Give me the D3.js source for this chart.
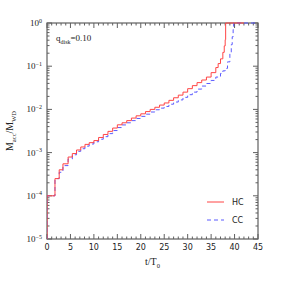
<!DOCTYPE html>
<html>
<head>
<meta charset="utf-8">
<script src="https://cdn.jsdelivr.net/npm/d3@7"></script>
<style>
body{margin:0;background:#fff;}
text{font-family:"Liberation Serif",serif;fill:#222;}
</style>
</head>
<body>
<div id="chart"></div>
<script>
// HC (solid red) and CC (dashed blue) accreted mass fraction vs t/T0
const tHC = [0, 0, 1.7, 2.6, 3.4, 4.5, 5.4, 6.3, 7.2, 8.1, 9.0, 10, 11, 12, 13, 14, 15, 16, 17, 18, 19, 20,
	21, 22, 23, 24, 25, 26, 27, 28, 29, 30, 31, 32, 33, 34, 35, 36, 36.5, 37, 37.5, 37.8, 38.0, 38.1, 42];
const mHC = [1e-5, 1.0e-4, 2.5e-4, 4.0e-4, 5.5e-4, 7.9e-4, 9.5e-4, 1.15e-3, 1.35e-3, 1.55e-3, 1.7e-3, 1.9e-3,
	2.24e-3, 2.63e-3, 3.1e-3, 3.7e-3, 4.4e-3, 4.9e-3, 5.5e-3, 6.3e-3, 7.1e-3, 7.9e-3,
	8.9e-3, 1.0e-2, 1.12e-2, 1.26e-2, 1.41e-2, 1.62e-2, 1.86e-2, 2.14e-2, 2.51e-2, 3.02e-2,
	3.55e-2, 4.17e-2, 4.79e-2, 5.6e-2, 7.1e-2, 9.3e-2, 0.115, 0.148, 0.209, 0.295, 0.41, 1, 1];

const tCC = [0, 0, 1.7, 2.6, 3.4, 4.5, 5.4, 6.3, 7.2, 8.1, 9.0, 10, 11, 12, 13, 14, 15, 16, 17, 18, 19, 20,
	21, 22, 23, 24, 25, 26, 27, 28, 29, 30, 31, 32, 33, 34, 35, 36, 37, 37.5, 38, 38.5, 39, 39.3, 39.5, 39.7, 39.8, 45];
const mCC = [1e-5, 1.0e-4, 2.5e-4, 3.5e-4, 5.0e-4, 7.1e-4, 8.9e-4, 1.07e-3, 1.23e-3, 1.41e-3, 1.58e-3, 1.78e-3,
	2.04e-3, 2.34e-3, 2.75e-3, 3.24e-3, 3.8e-3, 4.37e-3, 4.9e-3, 5.5e-3, 6.17e-3, 6.9e-3,
	7.76e-3, 8.7e-3, 9.8e-3, 1.07e-2, 1.17e-2, 1.32e-2, 1.48e-2, 1.66e-2, 1.9e-2, 2.19e-2,
	2.51e-2, 2.95e-2, 3.47e-2, 3.98e-2, 4.68e-2, 5.6e-2, 6.8e-2, 7.8e-2, 8.9e-2, 0.126, 0.2, 0.316, 0.48, 0.71, 1, 1];

const xTicks = [0, 5, 10, 15, 20, 25, 30, 35, 40, 45];
const yExps = [0, -1, -2, -3, -4, -5];
const seriesNames = ['HC', 'CC'];

const W = 281, H = 281;
const m = {t:23, r:23, b:42, l:47};
const w = W - m.l - m.r, h = H - m.t - m.b;

const svg = d3.select('#chart').append('svg').attr('width', W).attr('height', H);
const g = svg.append('g').attr('transform', `translate(${m.l},${m.t})`);

const x = d3.scaleLinear().domain([0, 45]).range([0, w]);
const y = d3.scaleLog().domain([1e-5, 1]).range([h, 0]);

const axisColor = '#606060';

g.append('clipPath').attr('id', 'clip')
	.append('rect').attr('y', -1).attr('width', w).attr('height', h + 1);

// ticks (inward, on all sides)
const minorX = d3.range(0, 46, 1);
const minorY = [];
for (let e = -5; e < 0; e++) for (let k = 2; k < 10; k++) minorY.push(k * Math.pow(10, e));
const majorY = yExps.map(e => Math.pow(10, e));

const ticks = g.append('g').attr('stroke', axisColor).attr('stroke-width', 1);
minorX.forEach(v => {
	const len = v % 5 === 0 ? 5 : 2.5;
	ticks.append('line').attr('x1', x(v)).attr('x2', x(v)).attr('y1', h).attr('y2', h - len);
	ticks.append('line').attr('x1', x(v)).attr('x2', x(v)).attr('y1', 0).attr('y2', len);
});
minorY.concat(majorY).forEach(v => {
	const len = majorY.includes(v) ? 5 : 2.5;
	ticks.append('line').attr('x1', 0).attr('x2', len).attr('y1', y(v)).attr('y2', y(v));
	ticks.append('line').attr('x1', w).attr('x2', w - len).attr('y1', y(v)).attr('y2', y(v));
});

g.append('rect').attr('width', w).attr('height', h)
	.attr('fill', 'none').attr('stroke', axisColor).attr('stroke-width', 1.2);

// tick labels
g.selectAll('.xlab').data(xTicks).enter().append('text')
	.attr('class', 'xlab')
	.attr('x', d => x(d)).attr('y', h + 11)
	.attr('text-anchor', 'middle')
	.style('font-size', '8px')
	.style('font-family', '"DejaVu Sans", sans-serif')
	.text(d => d);

const ylab = g.selectAll('.ylab').data(yExps).enter().append('text')
	.attr('class', 'ylab')
	.attr('x', -5).attr('y', d => y(Math.pow(10, d)) + 3)
	.attr('text-anchor', 'end')
	.style('font-size', '9px');
ylab.append('tspan').text('10');
ylab.append('tspan').attr('dy', -3.5).style('font-size', '6px')
	.text(d => d === 0 ? '0' : '\u2212' + (-d));

// axis titles
const xt = g.append('text').attr('x', w / 2).attr('y', h + 26)
	.attr('text-anchor', 'middle').style('font-size', '10px');
xt.append('tspan').text('t/T');
xt.append('tspan').attr('dy', 2.5).style('font-size', '6.5px').text('0');

const yt = svg.append('text')
	.attr('transform', `translate(13,${m.t + h / 2}) rotate(-90)`)
	.attr('text-anchor', 'middle').style('font-size', '10px');
yt.append('tspan').text('M');
yt.append('tspan').attr('dy', 2.5).style('font-size', '6.5px').text('acc');
yt.append('tspan').attr('dy', -2.5).text('/M');
yt.append('tspan').attr('dy', 2.5).style('font-size', '6.5px').text('WD');

// annotation
const ann = g.append('text').attr('x', 9).attr('y', 18).style('font-size', '9px');
ann.append('tspan').text('q');
ann.append('tspan').attr('dy', 2.5).style('font-size', '6px').text('disk');
ann.append('tspan').attr('dy', -2.5).text('=0.10');

// curves
const line = d3.line().x(d => x(d[0])).y(d => y(d[1])).curve(d3.curveStepAfter);
const series = [
	{name: seriesNames[0], pts: d3.zip(tHC, mHC), color: '#ff4545', dash: null},
	{name: seriesNames[1], pts: d3.zip(tCC, mCC), color: '#5b5bff', dash: '4,3'}
];
const curves = g.append('g').attr('clip-path', 'url(#clip)');
series.slice().reverse().forEach(s => {
	curves.append('path').attr('d', line(s.pts))
		.attr('fill', 'none').attr('stroke', s.color).attr('stroke-width', 1)
		.attr('stroke-dasharray', s.dash);
});

// legend
const leg = g.append('g');
series.forEach((s, i) => {
	const ly = 179 + i * 18;
	leg.append('line').attr('x1', 160).attr('x2', 177).attr('y1', ly).attr('y2', ly)
		.attr('stroke', s.color).attr('stroke-width', 1).attr('stroke-dasharray', s.dash);
	leg.append('text').attr('x', 185).attr('y', ly + 3)
		.style('font-size', '8px').style('font-family', '"DejaVu Sans", sans-serif')
		.text(s.name);
});
</script>
</body>
</html>
